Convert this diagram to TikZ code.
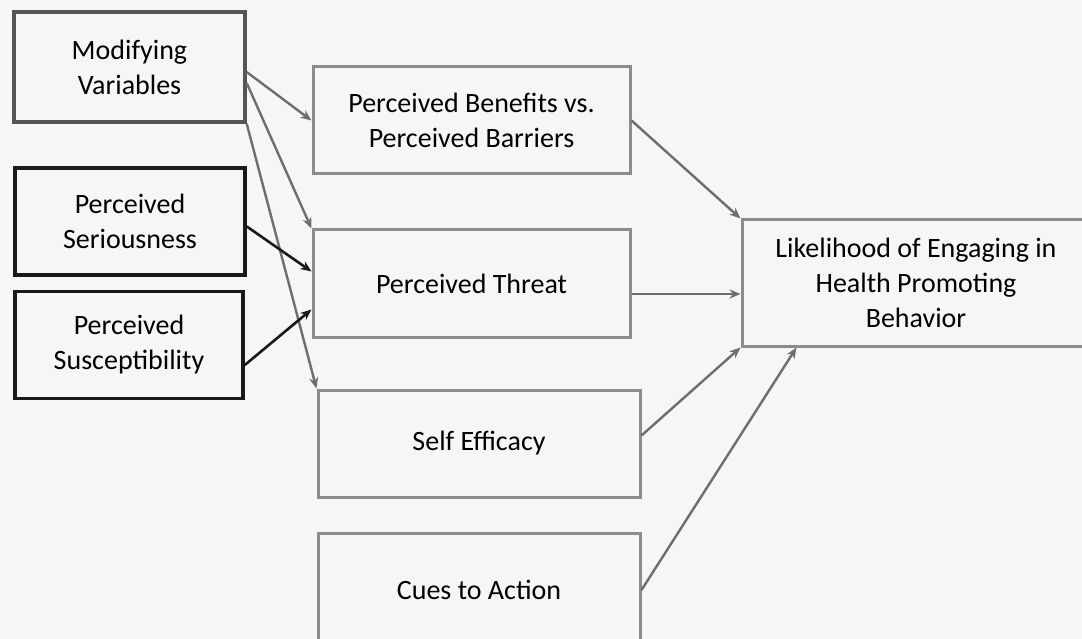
\documentclass[tikz,border=0pt]{standalone}
\usepackage{fontspec}
\setmainfont{Carlito}
\usetikzlibrary{arrows.meta}
\definecolor{bggray}{HTML}{F6F6F6}
\definecolor{boxgray}{HTML}{8C8C8C}
\definecolor{modgray}{HTML}{555555}
\definecolor{linegray}{HTML}{6E6E6E}
\begin{document}
\begin{tikzpicture}[x=1pt, y=-1pt,
                    every node/.style={font=\fontsize{28}{35}\selectfont, align=center, inner sep=0pt},
                    factor/.style={draw=boxgray, line width=3pt, fill=bggray, minimum height=107pt},
                    given/.style={draw=black!90, line width=3.6pt, fill=bggray, minimum width=230pt, minimum height=107pt},
                    link/.style={draw=linegray, line width=2.4pt, -{Stealth[length=11pt, width=9pt]}},
                    push/.style={draw=black!90, line width=2.6pt, -{Stealth[length=11pt, width=9pt]}}]
  \fill[bggray] (0,0) rectangle (1082,639);
  \clip (0,0) rectangle (1082,639);
  \node[draw=modgray, line width=3.4pt, fill=bggray, minimum width=231pt, minimum height=110pt] (mod) at (129.5,67) {Modifying\\Variables};
  \node[given] (ser) at (130,221.5) {Perceived\\Seriousness};
  \node[given, minimum width=228pt] (sus) at (129,345) {Perceived\\Susceptibility};
  \node[factor, minimum width=317pt] (ben) at (471.5,120.5) {Perceived Benefits vs.\\Perceived Barriers};
  \node[factor, minimum width=317pt] (thr) at (471.5,283.5) {Perceived Threat};
  \node[factor, minimum width=322pt] (eff) at (479,443.5) {Self Efficacy};
  \node[factor, minimum width=322pt, minimum height=114pt] (cue) at (479,590) {Cues to Action};
  \node[factor, minimum width=348pt, minimum height=126pt] (lik) at (916,283) {Likelihood of Engaging in\\Health Promoting\\Behavior};
  \draw[link] ([yshift=-5pt]mod.east) -- (ben.west);
  \draw[link] ([yshift=-16pt]mod.east) -- (thr.north west);
  \draw[link] (mod.south east) -- (eff.north west);
  \draw[push] ([yshift=-5pt]ser.east) -- ([yshift=12pt]thr.west);
  \draw[push] ([yshift=-20pt]sus.east) -- ([yshift=-26pt]thr.west);
  \draw[link] (ben.east) -- (lik.north west);
  \draw[link] ([yshift=-10.5pt]thr.east) -- ([yshift=-11pt]lik.west);
  \draw[link] ([yshift=8pt]eff.east) -- (lik.south west);
  \draw[link] (cue.east) -- ([xshift=56pt]lik.south west);
\end{tikzpicture}
\end{document}
